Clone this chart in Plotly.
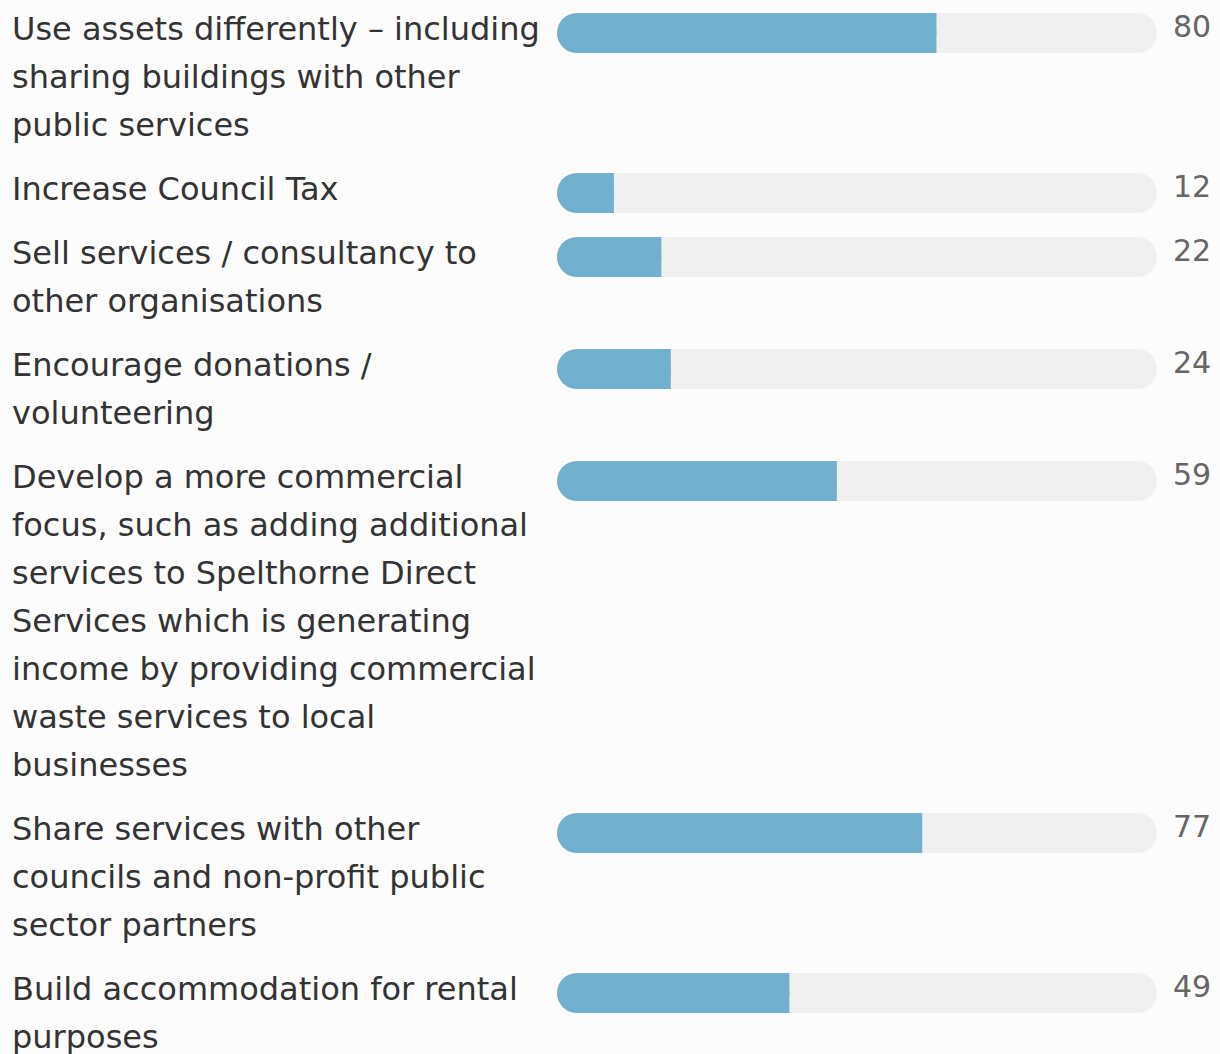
import plotly.graph_objects as go

categories = [
    "Use assets differently – including<br>sharing buildings with other<br>public services",
    "Increase Council Tax",
    "Sell services / consultancy to<br>other organisations",
    "Encourage donations /<br>volunteering",
    "Develop a more commercial<br>focus, such as adding additional<br>services to Spelthorne Direct<br>Services which is generating<br>income by providing commercial<br>waste services to local<br>businesses",
    "Share services with other<br>councils and non-profit public<br>sector partners",
    "Build accommodation for rental<br>purposes",
]
values = [80, 12, 22, 24, 59, 77, 49]
scale_max = 126.5

W, H = 1220, 1054
LINE_H = 48
ROW_GAP = 16
BAR_H = 40
BLUE = "#72b0cf"
TRACK = "#f0f0f0"
BG = "#fcfcfc"
FONT = "DejaVu Sans, sans-serif"

# vertical layout in pixel units (y axis runs 0..H top to bottom)
row_tops = []
top = 5
for label in categories:
    row_tops.append(top)
    top += len(label.split("<br>")) * LINE_H + ROW_GAP
bar_y = [t + 28 for t in row_tops]
n = len(values)

no_line = dict(width=0)
fig = go.Figure()
# grey track, rounded at both ends
fig.add_trace(go.Bar(
    y=bar_y, x=[scale_max] * n, base=[0] * n,
    orientation="h", width=BAR_H,
    marker=dict(color=TRACK, cornerradius=20, line=no_line),
    hoverinfo="skip",
))
# blue value bar: rounded left end, square right end
fig.add_trace(go.Bar(
    y=bar_y, x=values, base=[0] * n,
    orientation="h", width=BAR_H,
    marker=dict(color=BLUE, cornerradius=20, line=no_line),
    hoverinfo="skip",
))
fig.add_trace(go.Bar(
    y=bar_y, x=[v / 2 for v in values], base=[v / 2 for v in values],
    orientation="h", width=BAR_H,
    marker=dict(color=BLUE, line=no_line),
    hoverinfo="skip",
))

annotations = []
for label, t, v, by in zip(categories, row_tops, values, bar_y):
    for i, line in enumerate(label.split("<br>")):
        annotations.append(dict(
            x=10 / W, xref="paper", xanchor="left",
            y=t + 24 + i * LINE_H, yref="y", yanchor="middle",
            text=line, showarrow=False,
            font=dict(size=32, color="#333333", family=FONT),
        ))
    annotations.append(dict(
        x=1213 / W, xref="paper", xanchor="right",
        y=by - 6.5, yref="y", yanchor="middle",
        text=str(v), showarrow=False,
        font=dict(size=30, color="#666666", family=FONT),
    ))

fig.update_layout(
    width=W, height=H,
    barmode="overlay",
    showlegend=False,
    paper_bgcolor=BG,
    plot_bgcolor=BG,
    margin=dict(l=0, r=0, t=0, b=0),
    xaxis=dict(range=[0, scale_max], domain=[557 / W, 1157 / W], visible=False, fixedrange=True),
    yaxis=dict(range=[H, 0], visible=False, fixedrange=True),
    annotations=annotations,
)

fig.write_html(
    "out.html",
    config={"displayModeBar": False},
    post_script="document.body.style.margin='0';document.body.style.background='#fcfcfc';",
)
